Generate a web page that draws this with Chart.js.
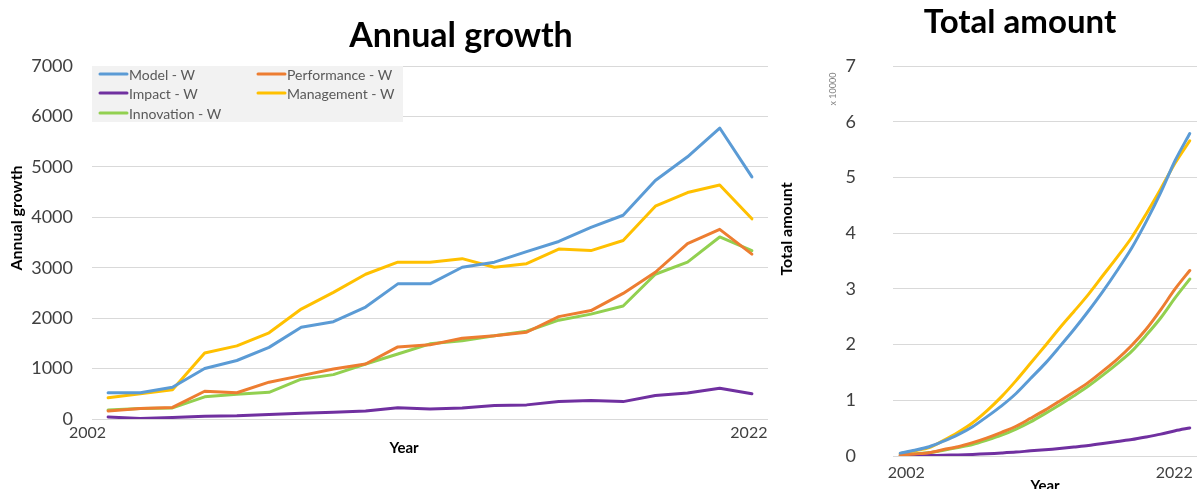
<!DOCTYPE html>
<html>
<head>
<meta charset="utf-8">
<script src="https://cdn.jsdelivr.net/npm/chart.js@4.4.1/dist/chart.umd.min.js"></script>
<style>
  html, body { margin: 0; padding: 0; background: #fff; }
  #wrap { position: relative; width: 1197px; height: 489px; overflow: hidden; }
  #growth-chart { position: absolute; left: 0; top: 0; }
  #total-chart { position: absolute; left: 780px; top: 0; }
</style>
</head>
<body>
<div id="wrap">
  <canvas id="growth-chart" width="780" height="489"></canvas>
  <canvas id="total-chart" width="417" height="489"></canvas>
</div>
<script>
// categories
const years = ['2002', '2003', '2004', '2005', '2006', '2007', '2008', '2009', '2010', '2011', '2012',
  '2013', '2014', '2015', '2016', '2017', '2018', '2019', '2020', '2021', '2022'];

// legend order (two columns, row by row)
const seriesNames = ['Model - W', 'Performance - W', 'Impact - W', 'Management - W', 'Innovation - W'];
const seriesColors = ['#5B9BD5', '#ED7D31', '#7030A0', '#FFC000', '#92D050'];

// annual growth per year
const modelAnnual = [520, 520, 630, 1000, 1160, 1420, 1820, 1930, 2220, 2680, 2680, 3010, 3110, 3320, 3520, 3800, 4040, 4730, 5200, 5770, 4800];
const performanceAnnual = [160, 210, 230, 550, 520, 730, 860, 990, 1090, 1430, 1470, 1600, 1650, 1720, 2030, 2150, 2490, 2910, 3480, 3760, 3270];
const impactAnnual = [40, 10, 30, 55, 65, 90, 115, 135, 160, 225, 200, 220, 270, 280, 345, 365, 345, 465, 515, 610, 500];
const managementAnnual = [420, 500, 580, 1310, 1450, 1710, 2180, 2510, 2870, 3110, 3110, 3180, 3010, 3080, 3370, 3340, 3540, 4220, 4490, 4640, 3970];
const innovationAnnual = [180, 210, 220, 440, 490, 530, 790, 880, 1090, 1290, 1490, 1550, 1650, 1740, 1960, 2080, 2240, 2870, 3110, 3610, 3340];

// total amount per year
const modelTotal = [520, 1040, 1670, 2670, 3830, 5250, 7070, 9000, 11220, 13900, 16580, 19590, 22700, 26020, 29540, 33340, 37380, 42110, 47310, 53080, 57880];
const performanceTotal = [160, 370, 600, 1150, 1670, 2400, 3260, 4250, 5340, 6770, 8240, 9840, 11490, 13210, 15240, 17390, 19880, 22790, 26270, 30030, 33300];
const impactTotal = [40, 50, 80, 135, 200, 290, 405, 540, 700, 925, 1125, 1345, 1615, 1895, 2240, 2605, 2950, 3415, 3930, 4540, 5040];
const managementTotal = [420, 920, 1500, 2810, 4260, 5970, 8150, 10660, 13530, 16640, 19750, 22930, 25940, 29020, 32390, 35730, 39270, 43490, 47980, 52620, 56590];
const innovationTotal = [180, 390, 610, 1050, 1540, 2070, 2860, 3740, 4830, 6120, 7610, 9160, 10810, 12550, 14510, 16590, 18830, 21700, 24810, 28420, 31760];

// y axis ticks
const growthTicks = { min: 0, max: 7000, step: 1000 };
const totalTicks = { min: 0, max: 70000, step: 10000 };

const FONT = 'Lato, "Open Sans", sans-serif';
const TEXT = '#404040';
const GRID = '#d9d9d9';

/**
 * Build line datasets in legend order
 */
function buildDatasets(seriesList, tension) {
  return seriesList.map((data, i) => ({
    label: seriesNames[i],
    data: data,
    borderColor: seriesColors[i],
    backgroundColor: seriesColors[i],
    borderWidth: 3,
    pointRadius: 0,
    tension: tension,
    borderJoinStyle: 'round',
    borderCapStyle: 'round',
    fill: false
  }));
}

/**
 * Free text: titles, axis names, first/last year labels
 */
const textPlugin = {
  id: 'chartText',
  afterDraw(chart, args, opts) {
    const ctx = chart.ctx;
    const x = chart.scales.x;
    (opts.items || []).forEach(item => {
      ctx.save();
      ctx.font = item.font;
      ctx.fillStyle = item.color || TEXT;
      ctx.textAlign = item.align || 'center';
      ctx.textBaseline = 'middle';
      let px = item.x;
      if (item.index !== undefined) px = x.getPixelForValue(item.index) + (item.dx || 0);
      ctx.translate(px, item.y);
      if (item.rotate) ctx.rotate(item.rotate);
      ctx.fillText(item.text, 0, 0);
      ctx.restore();
    });
  }
};

/**
 * Legend box drawn inside the plot area (top-left)
 */
const boxLegendPlugin = {
  id: 'boxLegend',
  afterDraw(chart, args, opts) {
    if (!opts.show) return;
    const ctx = chart.ctx;
    ctx.save();
    ctx.fillStyle = '#f2f2f2';
    ctx.fillRect(opts.left, opts.top, opts.width, opts.height);
    ctx.font = '14px ' + FONT;
    ctx.textBaseline = 'middle';
    chart.data.datasets.forEach((ds, i) => {
      const col = i % 2;
      const row = Math.floor(i / 2);
      const lx = opts.colX[col];
      const ly = opts.rowY[row];
      ctx.strokeStyle = ds.borderColor;
      ctx.lineWidth = 3;
      ctx.lineCap = 'round';
      ctx.beginPath();
      ctx.moveTo(lx, ly);
      ctx.lineTo(lx + 27, ly);
      ctx.stroke();
      ctx.fillStyle = '#595959';
      ctx.fillText(ds.label, lx + 29, ly + 1);
    });
    ctx.restore();
  }
};

/**
 * Common line chart options
 */
function baseOptions(ticks, yWidth, tickPad, padding, tickCallback) {
  return {
    responsive: false,
    animation: false,
    layout: { padding: padding },
    plugins: {
      legend: { display: false },
      tooltip: { enabled: false }
    },
    scales: {
      x: { display: false, offset: true },
      y: {
        min: ticks.min,
        max: ticks.max,
        afterFit: scale => {
          // fixed axis width; tick padding must not push the plot area
          scale.width = yWidth;
          scale.paddingTop = 0;
          scale.paddingBottom = 0;
        },
        border: { display: false },
        grid: { color: GRID, lineWidth: 1, drawTicks: false },
        ticks: {
          stepSize: ticks.step,
          padding: tickPad,
          color: TEXT,
          font: { family: FONT, size: 18 },
          callback: tickCallback
        }
      }
    }
  };
}

/**
 * Annual growth chart
 */
function loadGrowthChart() {
  const ctx = document.getElementById('growth-chart');
  const options = baseOptions(growthTicks, 92, 19, { top: 66, left: 0, right: 12, bottom: 70 }, v => v);
  options.plugins.boxLegend = {
    show: true, left: 92, top: 66, width: 311, height: 56,
    colX: [100, 258], rowY: [74, 93, 113]
  };
  options.plugins.chartText = {
    items: [
      { text: 'Annual growth', x: 461, y: 36, font: 'bold 34px ' + FONT, color: '#000' },
      { text: 'Annual growth', x: 17, y: 218, font: 'bold 16px ' + FONT, color: '#000', rotate: -Math.PI / 2 },
      { text: 'Year', x: 404, y: 448, font: 'bold 15px ' + FONT, color: '#000' },
      { text: years[0], index: 0, dx: -2, y: 433, align: 'right', font: '16px ' + FONT },
      { text: years[years.length - 1], index: years.length - 1, dx: -3, y: 433, font: '16px ' + FONT }
    ]
  };
  return new Chart(ctx, {
    type: 'line',
    data: {
      labels: years,
      datasets: buildDatasets([modelAnnual, performanceAnnual, impactAnnual, managementAnnual, innovationAnnual], 0)
    },
    options: options,
    plugins: [textPlugin, boxLegendPlugin]
  });
}

/**
 * Total amount chart (axis shown in units of 10000)
 */
function loadTotalChart() {
  const ctx = document.getElementById('total-chart');
  const options = baseOptions(totalTicks, 113, 37, { top: 66, left: 0, right: 0, bottom: 33 }, v => v / 10000);
  options.plugins.chartText = {
    items: [
      { text: 'Total amount', x: 240, y: 22, font: 'bold 33px ' + FONT, color: '#000' },
      { text: 'Total amount', x: 7, y: 229, font: 'bold 16px ' + FONT, color: '#000', rotate: -Math.PI / 2 },
      { text: 'x 10000', x: 53, y: 89, font: '9px ' + FONT, color: '#7f7f7f', rotate: -Math.PI / 2 },
      { text: 'Year', x: 265, y: 486, font: 'bold 15px ' + FONT, color: '#000' },
      { text: years[0], index: 0, dx: 6, y: 473, font: '16px ' + FONT },
      { text: years[years.length - 1], index: years.length - 1, dx: 3, y: 473, align: 'right', font: '16px ' + FONT }
    ]
  };
  return new Chart(ctx, {
    type: 'line',
    data: {
      labels: years,
      datasets: buildDatasets([modelTotal, performanceTotal, impactTotal, managementTotal, innovationTotal], 0.3)
    },
    options: options,
    plugins: [textPlugin]
  });
}

loadGrowthChart();
loadTotalChart();
</script>
</body>
</html>
